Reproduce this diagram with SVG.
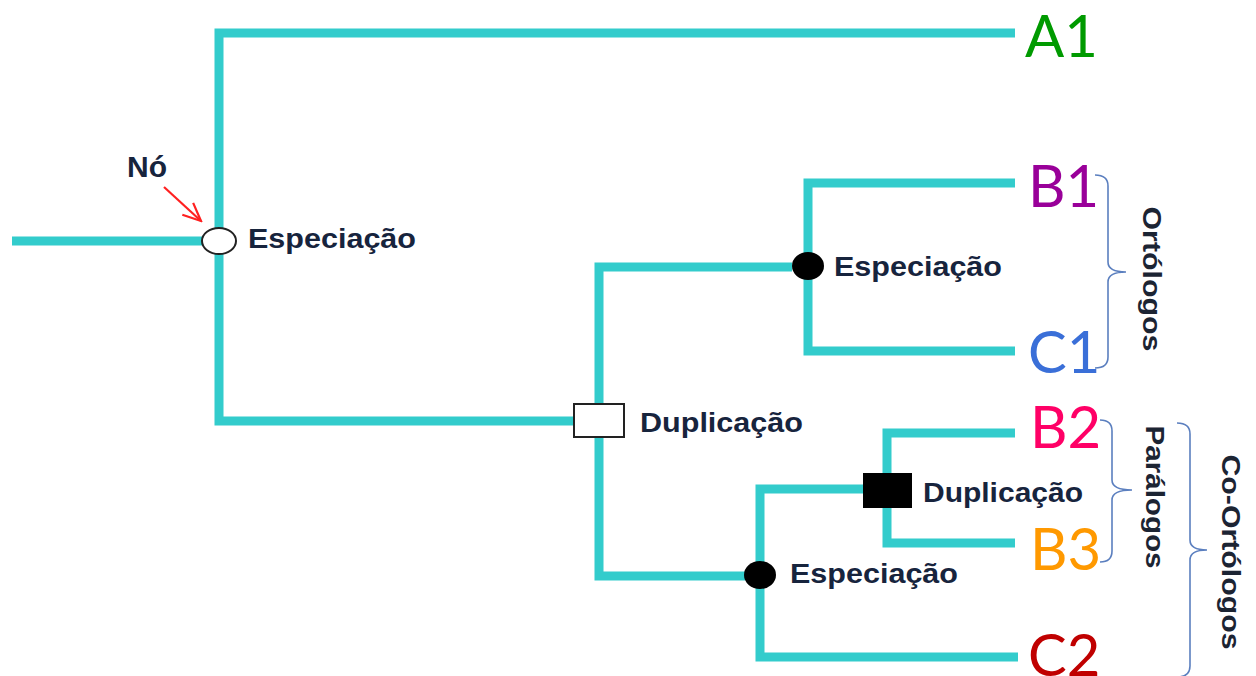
<svg xmlns="http://www.w3.org/2000/svg" width="1256" height="676" viewBox="0 0 1256 676">
  <style>
    .branch { fill: none; stroke: #33cccc; stroke-width: 9; stroke-linejoin: miter; stroke-linecap: butt; }
    .event { font-family: "Liberation Sans", Arial, sans-serif; font-weight: bold; font-size: 28px; fill: #17243d; }
    .pointer-label { font-size: 30px; }
    .leaf { font-family: Lato, "Open Sans", "Liberation Sans", sans-serif; font-size: 58px; }
    .brace { fill: none; stroke: #5b7fbf; stroke-width: 1.6; }
    .group { font-family: "Liberation Sans", Arial, sans-serif; font-weight: bold; font-size: 26px; fill: #1c2433; text-anchor: middle; }
    .open { fill: #ffffff; stroke: #222222; stroke-width: 2; }
    .solid { fill: #000000; }
  </style>
  <defs>
    <marker id="redHead" viewBox="0 0 22 22" refX="20" refY="11" markerWidth="22" markerHeight="22" markerUnits="userSpaceOnUse" orient="auto">
      <path d="M2,3 L20,11 L2,19" fill="none" stroke="#ff2020" stroke-width="2.2"/>
    </marker>
  </defs>
  <rect width="1256" height="676" fill="#ffffff"/>

  <!-- tree branches -->
  <g id="connectors">
    <path class="branch" d="M12 241 H204"/>
    <path class="branch" d="M1015 33 H219 V421 H576"/>
    <path class="branch" d="M792 267 H599 V576 H745"/>
    <path class="branch" d="M1015 183 H808 V351 H1015"/>
    <path class="branch" d="M864 489 H760 V657 H1018"/>
    <path class="branch" d="M1015 433 H887 V543 H1015"/>
  </g>

  <!-- pointer to the root node -->
  <g id="pointer">
    <text class="event pointer-label" x="127" y="177">Nó</text>
    <line x1="164" y1="187" x2="201" y2="221" stroke="#ff2020" stroke-width="2.2" marker-end="url(#redHead)"/>
  </g>

  <!-- internal nodes -->
  <g id="node-root">
    <ellipse class="open" cx="219" cy="241" rx="17" ry="13"/>
    <text class="event" x="248" y="248" textLength="168" lengthAdjust="spacingAndGlyphs">Especiação</text>
  </g>
  <g id="node-dup1">
    <rect class="open" x="574" y="404" width="50" height="33" stroke-width="1.6"/>
    <text class="event" x="640" y="432" textLength="163" lengthAdjust="spacingAndGlyphs">Duplicação</text>
  </g>
  <g id="node-spec-b1c1">
    <ellipse class="solid" cx="808" cy="266" rx="16" ry="14"/>
    <text class="event" x="834" y="276" textLength="168" lengthAdjust="spacingAndGlyphs">Especiação</text>
  </g>
  <g id="node-spec-low">
    <ellipse class="solid" cx="760" cy="575" rx="16" ry="14"/>
    <text class="event" x="790" y="583" textLength="168" lengthAdjust="spacingAndGlyphs">Especiação</text>
  </g>
  <g id="node-dup2">
    <rect class="solid" x="863" y="473" width="49" height="35"/>
    <text class="event" x="923" y="502" textLength="160" lengthAdjust="spacingAndGlyphs">Duplicação</text>
  </g>

  <!-- leaves -->
  <g id="leaf-A1"><text class="leaf" x="1025" y="57" fill="#009a00">A1</text></g>
  <g id="leaf-B1"><text class="leaf" x="1028" y="207" fill="#990099">B1</text></g>
  <g id="leaf-C1"><text class="leaf" x="1028" y="373" fill="#3a6fd8">C1</text></g>
  <g id="leaf-B2"><text class="leaf" x="1030" y="448" fill="#ff0066">B2</text></g>
  <g id="leaf-B3"><text class="leaf" x="1030" y="570" fill="#ff9900">B3</text></g>
  <g id="leaf-C2"><text class="leaf" x="1028" y="676" fill="#c00000">C2</text></g>

  <!-- groupings -->
  <g id="group-ortologos">
    <path class="brace" d="M1095 175 Q1108 175 1108 186 V262 Q1108 272 1126 272 Q1108 272 1108 282 V357 Q1108 368 1095 368"/>
    <text class="group" transform="translate(1143 279) rotate(90)" textLength="145" lengthAdjust="spacingAndGlyphs">Ortólogos</text>
  </g>
  <g id="group-paralogos">
    <path class="brace" d="M1100 420 Q1112 420 1112 431 V480 Q1112 490 1132 490 Q1112 490 1112 500 V551 Q1112 562 1100 562"/>
    <text class="group" transform="translate(1146 497) rotate(90)" textLength="143" lengthAdjust="spacingAndGlyphs">Parálogos</text>
  </g>
  <g id="group-coortologos">
    <path class="brace" d="M1177 423 Q1190 423 1190 434 V540 Q1190 550 1207 550 Q1190 550 1190 560 V666 Q1190 677 1177 677"/>
    <text class="group" transform="translate(1222 552) rotate(90)" textLength="195" lengthAdjust="spacingAndGlyphs">Co-Ortólogos</text>
  </g>
</svg>
